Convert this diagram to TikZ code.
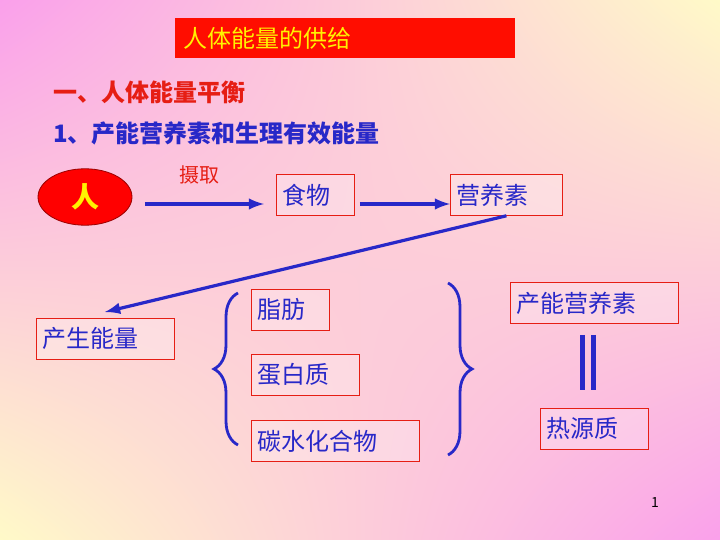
\documentclass[tikz,border=0pt]{standalone}
\usepackage{fontspec}
\setmainfont{Noto Sans CJK SC}
\usetikzlibrary{shapes.geometric,decorations.pathreplacing,shadings}
\definecolor{txtblue}{RGB}{40,40,200}
\definecolor{txtred}{RGB}{230,30,20}
\definecolor{bgpink}{RGB}{250,160,235}
\definecolor{bgyellow}{RGB}{255,250,200}
\tikzset{
  termbox/.style={draw=txtred,fill=white,fill opacity=0.25,text opacity=1,text=txtblue,
    font=\fontsize{12}{14}\selectfont,inner sep=3pt,anchor=north west,minimum height=20.5pt,align=left},
  heading/.style={anchor=west,font=\bfseries\fontsize{12}{14}\selectfont},
  flow/.style={-latex,draw=txtblue,line width=1.6pt},
  curly/.style={draw=txtblue,line width=1.4pt,decorate,decoration={brace,amplitude=12pt}}
}
\begin{document}
\begin{tikzpicture}[x=0.5pt,y=-0.5pt]
\shade[upper left=bgpink,upper right=bgyellow,lower left=bgyellow,lower right=bgpink]
  (0,0) rectangle (720,540);
\useasboundingbox (0,0) rectangle (720,540);
% title
\node[fill=red!90!orange,minimum width=170pt,minimum height=20pt,anchor=north west,
  text=yellow,font=\fontsize{12}{14}\selectfont,inner xsep=4pt] (title) at (175,18)
  {\makebox[162pt][l]{人体能量的供给}};
\node[heading,text=txtred] (sec) at (46,92) {一、人体能量平衡};
\node[heading,text=txtblue] (sub) at (46,133) {1、产能营养素和生理有效能量};
% chain
\node[ellipse,fill=red,draw=red!60!black,minimum width=47pt,minimum height=24pt,
  text=yellow,font=\bfseries\fontsize{14}{16}\selectfont] (ren) at (85,197) {人};
\node[termbox,text width=33pt] (food) at (276,174) {食物};
\node[termbox,text width=50pt] (nutr) at (450,174) {营养素};
\node[text=txtred,font=\fontsize{10}{12}\selectfont] (take) at (200,175) {摄取};
\coordinate (a1) at (145,204);
\coordinate (a2) at (264,204);
\draw[flow] (a1) -- (a2);
\draw[flow] (food.east|-a1) ++(5,0) -- (nutr.west|-a1);
\node[termbox,text width=63pt] (energy) at (36,318) {产生能量};
\coordinate (e1) at (105,312);
\draw[flow] (nutr.south) -- (e1);
% nutrients
\node[termbox,text width=33pt] (fat) at (251,289) {脂肪};
\node[termbox,text width=48pt] (prot) at (251,354) {蛋白质};
\node[termbox,text width=78pt] (carb) at (251,420) {碳水化合物};
\coordinate (lb1) at (238,293);
\coordinate (lb2) at (238,445);
\draw[curly] (lb2) -- (lb1);
\coordinate (rb1) at (448,283);
\coordinate (rb2) at (448,455);
\draw[curly] (rb1) -- (rb2);
\node[termbox,text width=78pt] (prod) at (510,282) {产能营养素};
\node[termbox,text width=48pt] (heat) at (540,408) {热源质};
\coordinate (d1) at (583,335); \coordinate (d2) at (583,390);
\coordinate (d3) at (594,335); \coordinate (d4) at (594,390);
\draw[draw=txtblue,line width=2.5pt] (d1) -- (d2) (d3) -- (d4);
\node[font=\fontsize{7}{8}\selectfont] (pg) at (655,503) {1};
\end{tikzpicture}
\end{document}
